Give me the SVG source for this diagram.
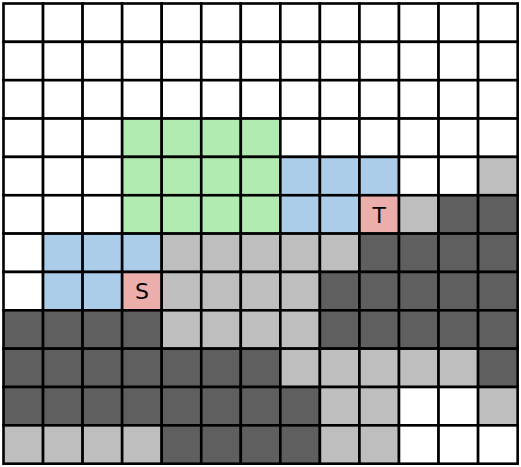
<svg xmlns="http://www.w3.org/2000/svg" width="521" height="467" viewBox="0 0 521 467">
<style>
rect{stroke:#000;stroke-width:2.6}
.w{fill:#fff}.g{fill:#b1ebb1}.b{fill:#abcdea}.p{fill:#ebaeaa}.l{fill:#bebebe}.d{fill:#5f5f5f}
text{font-family:"DejaVu Sans",sans-serif;font-size:22px;fill:#000;text-anchor:middle;dominant-baseline:central}
</style>
<g id="grid">
<g transform="translate(0,3.5)">
<rect class="w" x="3.5" y="0" width="39.55" height="38.35"/><rect class="w" x="43.05" y="0" width="39.55" height="38.35"/><rect class="w" x="82.6" y="0" width="39.55" height="38.35"/><rect class="w" x="122.15" y="0" width="39.55" height="38.35"/><rect class="w" x="161.7" y="0" width="39.55" height="38.35"/><rect class="w" x="201.25" y="0" width="39.55" height="38.35"/><rect class="w" x="240.8" y="0" width="39.55" height="38.35"/><rect class="w" x="280.35" y="0" width="39.55" height="38.35"/><rect class="w" x="319.9" y="0" width="39.55" height="38.35"/><rect class="w" x="359.45" y="0" width="39.55" height="38.35"/><rect class="w" x="399" y="0" width="39.55" height="38.35"/><rect class="w" x="438.55" y="0" width="39.55" height="38.35"/><rect class="w" x="478.1" y="0" width="39.55" height="38.35"/>
</g>
<g transform="translate(0,41.85)">
<rect class="w" x="3.5" y="0" width="39.55" height="38.35"/><rect class="w" x="43.05" y="0" width="39.55" height="38.35"/><rect class="w" x="82.6" y="0" width="39.55" height="38.35"/><rect class="w" x="122.15" y="0" width="39.55" height="38.35"/><rect class="w" x="161.7" y="0" width="39.55" height="38.35"/><rect class="w" x="201.25" y="0" width="39.55" height="38.35"/><rect class="w" x="240.8" y="0" width="39.55" height="38.35"/><rect class="w" x="280.35" y="0" width="39.55" height="38.35"/><rect class="w" x="319.9" y="0" width="39.55" height="38.35"/><rect class="w" x="359.45" y="0" width="39.55" height="38.35"/><rect class="w" x="399" y="0" width="39.55" height="38.35"/><rect class="w" x="438.55" y="0" width="39.55" height="38.35"/><rect class="w" x="478.1" y="0" width="39.55" height="38.35"/>
</g>
<g transform="translate(0,80.2)">
<rect class="w" x="3.5" y="0" width="39.55" height="38.35"/><rect class="w" x="43.05" y="0" width="39.55" height="38.35"/><rect class="w" x="82.6" y="0" width="39.55" height="38.35"/><rect class="w" x="122.15" y="0" width="39.55" height="38.35"/><rect class="w" x="161.7" y="0" width="39.55" height="38.35"/><rect class="w" x="201.25" y="0" width="39.55" height="38.35"/><rect class="w" x="240.8" y="0" width="39.55" height="38.35"/><rect class="w" x="280.35" y="0" width="39.55" height="38.35"/><rect class="w" x="319.9" y="0" width="39.55" height="38.35"/><rect class="w" x="359.45" y="0" width="39.55" height="38.35"/><rect class="w" x="399" y="0" width="39.55" height="38.35"/><rect class="w" x="438.55" y="0" width="39.55" height="38.35"/><rect class="w" x="478.1" y="0" width="39.55" height="38.35"/>
</g>
<g transform="translate(0,118.55)">
<rect class="w" x="3.5" y="0" width="39.55" height="38.35"/><rect class="w" x="43.05" y="0" width="39.55" height="38.35"/><rect class="w" x="82.6" y="0" width="39.55" height="38.35"/><rect class="g" x="122.15" y="0" width="39.55" height="38.35"/><rect class="g" x="161.7" y="0" width="39.55" height="38.35"/><rect class="g" x="201.25" y="0" width="39.55" height="38.35"/><rect class="g" x="240.8" y="0" width="39.55" height="38.35"/><rect class="w" x="280.35" y="0" width="39.55" height="38.35"/><rect class="w" x="319.9" y="0" width="39.55" height="38.35"/><rect class="w" x="359.45" y="0" width="39.55" height="38.35"/><rect class="w" x="399" y="0" width="39.55" height="38.35"/><rect class="w" x="438.55" y="0" width="39.55" height="38.35"/><rect class="w" x="478.1" y="0" width="39.55" height="38.35"/>
</g>
<g transform="translate(0,156.9)">
<rect class="w" x="3.5" y="0" width="39.55" height="38.35"/><rect class="w" x="43.05" y="0" width="39.55" height="38.35"/><rect class="w" x="82.6" y="0" width="39.55" height="38.35"/><rect class="g" x="122.15" y="0" width="39.55" height="38.35"/><rect class="g" x="161.7" y="0" width="39.55" height="38.35"/><rect class="g" x="201.25" y="0" width="39.55" height="38.35"/><rect class="g" x="240.8" y="0" width="39.55" height="38.35"/><rect class="b" x="280.35" y="0" width="39.55" height="38.35"/><rect class="b" x="319.9" y="0" width="39.55" height="38.35"/><rect class="b" x="359.45" y="0" width="39.55" height="38.35"/><rect class="w" x="399" y="0" width="39.55" height="38.35"/><rect class="w" x="438.55" y="0" width="39.55" height="38.35"/><rect class="l" x="478.1" y="0" width="39.55" height="38.35"/>
</g>
<g transform="translate(0,195.25)">
<rect class="w" x="3.5" y="0" width="39.55" height="38.35"/><rect class="w" x="43.05" y="0" width="39.55" height="38.35"/><rect class="w" x="82.6" y="0" width="39.55" height="38.35"/><rect class="g" x="122.15" y="0" width="39.55" height="38.35"/><rect class="g" x="161.7" y="0" width="39.55" height="38.35"/><rect class="g" x="201.25" y="0" width="39.55" height="38.35"/><rect class="g" x="240.8" y="0" width="39.55" height="38.35"/><rect class="b" x="280.35" y="0" width="39.55" height="38.35"/><rect class="b" x="319.9" y="0" width="39.55" height="38.35"/><rect class="p" x="359.45" y="0" width="39.55" height="38.35"/><rect class="l" x="399" y="0" width="39.55" height="38.35"/><rect class="d" x="438.55" y="0" width="39.55" height="38.35"/><rect class="d" x="478.1" y="0" width="39.55" height="38.35"/>
<text x="379.2" y="20">T</text>
</g>
<g transform="translate(0,233.6)">
<rect class="w" x="3.5" y="0" width="39.55" height="38.35"/><rect class="b" x="43.05" y="0" width="39.55" height="38.35"/><rect class="b" x="82.6" y="0" width="39.55" height="38.35"/><rect class="b" x="122.15" y="0" width="39.55" height="38.35"/><rect class="l" x="161.7" y="0" width="39.55" height="38.35"/><rect class="l" x="201.25" y="0" width="39.55" height="38.35"/><rect class="l" x="240.8" y="0" width="39.55" height="38.35"/><rect class="l" x="280.35" y="0" width="39.55" height="38.35"/><rect class="l" x="319.9" y="0" width="39.55" height="38.35"/><rect class="d" x="359.45" y="0" width="39.55" height="38.35"/><rect class="d" x="399" y="0" width="39.55" height="38.35"/><rect class="d" x="438.55" y="0" width="39.55" height="38.35"/><rect class="d" x="478.1" y="0" width="39.55" height="38.35"/>
</g>
<g transform="translate(0,271.95)">
<rect class="w" x="3.5" y="0" width="39.55" height="38.35"/><rect class="b" x="43.05" y="0" width="39.55" height="38.35"/><rect class="b" x="82.6" y="0" width="39.55" height="38.35"/><rect class="p" x="122.15" y="0" width="39.55" height="38.35"/><rect class="l" x="161.7" y="0" width="39.55" height="38.35"/><rect class="l" x="201.25" y="0" width="39.55" height="38.35"/><rect class="l" x="240.8" y="0" width="39.55" height="38.35"/><rect class="l" x="280.35" y="0" width="39.55" height="38.35"/><rect class="d" x="319.9" y="0" width="39.55" height="38.35"/><rect class="d" x="359.45" y="0" width="39.55" height="38.35"/><rect class="d" x="399" y="0" width="39.55" height="38.35"/><rect class="d" x="438.55" y="0" width="39.55" height="38.35"/><rect class="d" x="478.1" y="0" width="39.55" height="38.35"/>
<text x="141.9" y="20">S</text>
</g>
<g transform="translate(0,310.3)">
<rect class="d" x="3.5" y="0" width="39.55" height="38.35"/><rect class="d" x="43.05" y="0" width="39.55" height="38.35"/><rect class="d" x="82.6" y="0" width="39.55" height="38.35"/><rect class="d" x="122.15" y="0" width="39.55" height="38.35"/><rect class="l" x="161.7" y="0" width="39.55" height="38.35"/><rect class="l" x="201.25" y="0" width="39.55" height="38.35"/><rect class="l" x="240.8" y="0" width="39.55" height="38.35"/><rect class="l" x="280.35" y="0" width="39.55" height="38.35"/><rect class="d" x="319.9" y="0" width="39.55" height="38.35"/><rect class="d" x="359.45" y="0" width="39.55" height="38.35"/><rect class="d" x="399" y="0" width="39.55" height="38.35"/><rect class="d" x="438.55" y="0" width="39.55" height="38.35"/><rect class="d" x="478.1" y="0" width="39.55" height="38.35"/>
</g>
<g transform="translate(0,348.65)">
<rect class="d" x="3.5" y="0" width="39.55" height="38.35"/><rect class="d" x="43.05" y="0" width="39.55" height="38.35"/><rect class="d" x="82.6" y="0" width="39.55" height="38.35"/><rect class="d" x="122.15" y="0" width="39.55" height="38.35"/><rect class="d" x="161.7" y="0" width="39.55" height="38.35"/><rect class="d" x="201.25" y="0" width="39.55" height="38.35"/><rect class="d" x="240.8" y="0" width="39.55" height="38.35"/><rect class="l" x="280.35" y="0" width="39.55" height="38.35"/><rect class="l" x="319.9" y="0" width="39.55" height="38.35"/><rect class="l" x="359.45" y="0" width="39.55" height="38.35"/><rect class="l" x="399" y="0" width="39.55" height="38.35"/><rect class="l" x="438.55" y="0" width="39.55" height="38.35"/><rect class="d" x="478.1" y="0" width="39.55" height="38.35"/>
</g>
<g transform="translate(0,387)">
<rect class="d" x="3.5" y="0" width="39.55" height="38.35"/><rect class="d" x="43.05" y="0" width="39.55" height="38.35"/><rect class="d" x="82.6" y="0" width="39.55" height="38.35"/><rect class="d" x="122.15" y="0" width="39.55" height="38.35"/><rect class="d" x="161.7" y="0" width="39.55" height="38.35"/><rect class="d" x="201.25" y="0" width="39.55" height="38.35"/><rect class="d" x="240.8" y="0" width="39.55" height="38.35"/><rect class="d" x="280.35" y="0" width="39.55" height="38.35"/><rect class="l" x="319.9" y="0" width="39.55" height="38.35"/><rect class="l" x="359.45" y="0" width="39.55" height="38.35"/><rect class="w" x="399" y="0" width="39.55" height="38.35"/><rect class="w" x="438.55" y="0" width="39.55" height="38.35"/><rect class="l" x="478.1" y="0" width="39.55" height="38.35"/>
</g>
<g transform="translate(0,425.35)">
<rect class="l" x="3.5" y="0" width="39.55" height="38.35"/><rect class="l" x="43.05" y="0" width="39.55" height="38.35"/><rect class="l" x="82.6" y="0" width="39.55" height="38.35"/><rect class="l" x="122.15" y="0" width="39.55" height="38.35"/><rect class="d" x="161.7" y="0" width="39.55" height="38.35"/><rect class="d" x="201.25" y="0" width="39.55" height="38.35"/><rect class="d" x="240.8" y="0" width="39.55" height="38.35"/><rect class="d" x="280.35" y="0" width="39.55" height="38.35"/><rect class="l" x="319.9" y="0" width="39.55" height="38.35"/><rect class="l" x="359.45" y="0" width="39.55" height="38.35"/><rect class="w" x="399" y="0" width="39.55" height="38.35"/><rect class="w" x="438.55" y="0" width="39.55" height="38.35"/><rect class="w" x="478.1" y="0" width="39.55" height="38.35"/>
</g>
</g>
</svg>
